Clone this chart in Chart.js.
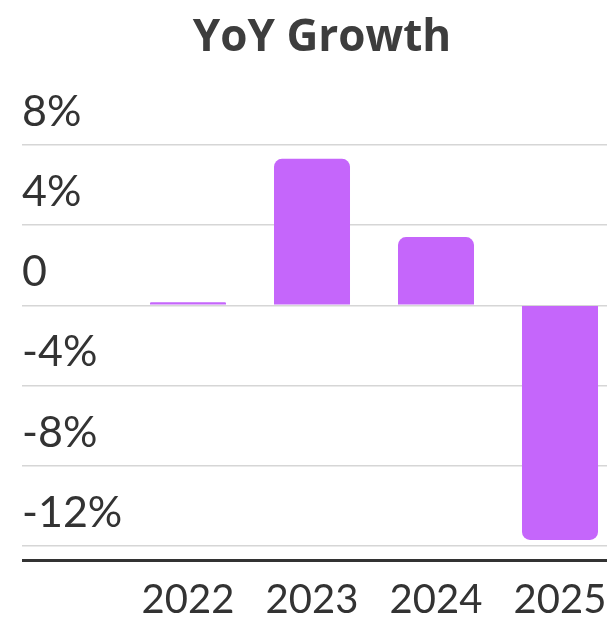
<!DOCTYPE html>
<html>
<head>
<meta charset="utf-8">
<title>YoY Growth</title>
<script src="https://cdn.jsdelivr.net/npm/chart.js@4/dist/chart.umd.min.js"></script>
<style>
  html, body { margin: 0; padding: 0; background: #ffffff; overflow: hidden; }
  #wrap { width: 650px; height: 622px; }
</style>
</head>
<body>
<div id="wrap"><canvas id="chart" width="650" height="622"></canvas></div>
<script>
// Year-over-year growth, percent
const years = ['2022', '2023', '2024', '2025'];
const growth = [0.15, 7.3, 3.4, -11.7];
const yTickValues = [8, 4, 0, -4, -8, -12];
const yMin = -12.7;
const yMax = 8;

const ink = '#333333';
const gridGray = '#d6d6d6';
const barPurple = '#c566fb';

const isBase = (ctx) => ctx.tick && ctx.tick.value === yMin;

new Chart(document.getElementById('chart'), {
  type: 'bar',
  data: {
    labels: years,
    datasets: [{
      data: growth,
      backgroundColor: barPurple,
      borderRadius: 8,
      borderSkipped: 'start',
      categoryPercentage: 1,
      barPercentage: 0.613
    }]
  },
  options: {
    responsive: false,
    animation: false,
    layout: { padding: { left: 22, right: 28, top: 0, bottom: 0 } },
    plugins: {
      legend: { display: false },
      tooltip: { enabled: false },
      title: {
        display: true,
        text: 'YoY Growth',
        color: '#3d3d3d',
        font: { family: "'Open Sans', 'Noto Sans', sans-serif", size: 44, weight: 'bold', lineHeight: 1.2 },
        padding: { top: 12, bottom: 80 }
      }
    },
    scales: {
      x: {
        grid: { display: false, drawTicks: false },
        border: { display: false },
        ticks: {
          color: ink,
          padding: 16,
          font: { family: "Lato, 'Open Sans', sans-serif", size: 40 }
        },
        afterFit: (scale) => { scale.height = 62; }
      },
      y: {
        min: yMin,
        max: yMax,
        border: { display: false },
        grid: {
          drawTicks: true,
          tickLength: 104,
          color: (ctx) => isBase(ctx) ? ink : gridGray,
          tickColor: (ctx) => isBase(ctx) ? ink : gridGray,
          lineWidth: (ctx) => isBase(ctx) ? 3 : 1.5,
          tickWidth: (ctx) => isBase(ctx) ? 3 : 1.5
        },
        ticks: {
          color: ink,
          crossAlign: 'far',
          labelOffset: -33,
          padding: 0,
          autoSkip: false,
          font: { family: "Lato, 'Open Sans', sans-serif", size: 43 },
          callback: (v) => v === yMin ? '' : (v === 0 ? '0' : v + '%')
        },
        afterBuildTicks: (scale) => {
          scale.ticks = [yMin, ...yTickValues.slice().reverse()].map(v => ({ value: v }));
        },
        afterFit: (scale) => { scale.width = 104; }
      }
    }
  }
});
</script>
</body>
</html>
